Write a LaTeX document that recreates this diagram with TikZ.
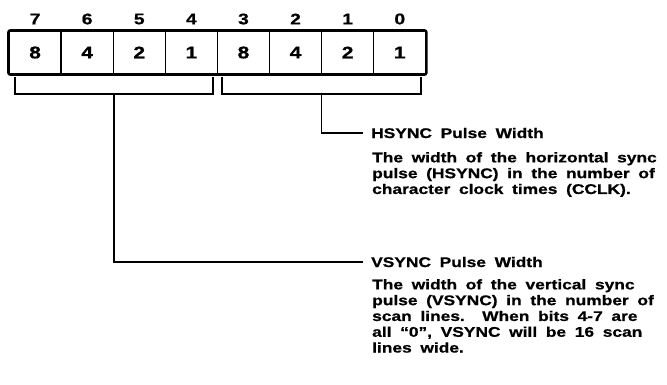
\documentclass[tikz,border=0pt]{standalone}
\usepackage{fontspec}
\setmainfont{Liberation Sans}[FakeStretch=1.24,WordSpace=1.8,BoldFeatures={FakeBold=0.8}]
\usepackage{tikz}
\usetikzlibrary{positioning}
\tikzset{
  cell/.style={draw, line width=1.3pt, minimum width=52.1pt, minimum height=43pt,
               inner sep=0pt, font=\bfseries\fontsize{17}{19}\selectfont},
  bitnum/.style={inner sep=0pt, font=\bfseries\fontsize{15.5}{17}\selectfont},
  regbox/.style={line width=2.4pt, rounded corners=2pt},
  brace/.style={line width=1.3pt},
  leader/.style={line width=1.3pt},
  fieldtitle/.style={anchor=west, inner xsep=8pt, inner ysep=0pt,
                     font=\bfseries\fontsize{14}{15.8}\selectfont},
  desc/.style={anchor=north west, align=left, inner sep=0pt,
               font=\bfseries\fontsize{14}{15.8}\selectfont},
}
\begin{document}
\begin{tikzpicture}[x=1pt, y=-1pt]
  \useasboundingbox (0,0) rectangle (667,384);

  \foreach \b/\w [count=\i from 0] in {7/8,6/4,5/2,4/1,3/8,2/4,1/2,0/1} {
    \node[cell]   (c\b) at ({35.05+52.1*\i},52.5) {\w};
    \node[bitnum] (n\b) at ({35.05+52.1*\i},19) {\b};
  }
  \draw[regbox] (c7.north west) rectangle (c0.south east);

  \draw[brace] (15,77) |- (213,94) -- (213,77);
  \draw[brace] (222,77) |- (421,94) -- (421,77);
  \coordinate (vb) at (114,94);
  \coordinate (hb) at (321.5,94);

  \node[fieldtitle] (htitle) at (363,133) {HSYNC Pulse Width};
  \node[desc] (hdesc) at (372,152) {The width of the horizontal sync\\
    pulse (HSYNC) in the number of\\character clock times (CCLK).};

  \node[fieldtitle] (vtitle) at (363,262) {VSYNC Pulse Width};
  \node[desc] (vdesc) at (372,279) {The width of the vertical sync\\
    pulse (VSYNC) in the number of\\scan lines.\ \ When bits 4-7 are\\
    all ``0'', VSYNC will be 16 scan\\lines wide.};

  \draw[leader] (hb) |- (htitle.west);
  \draw[leader] (vb) |- (vtitle.west);
\end{tikzpicture}
\end{document}
